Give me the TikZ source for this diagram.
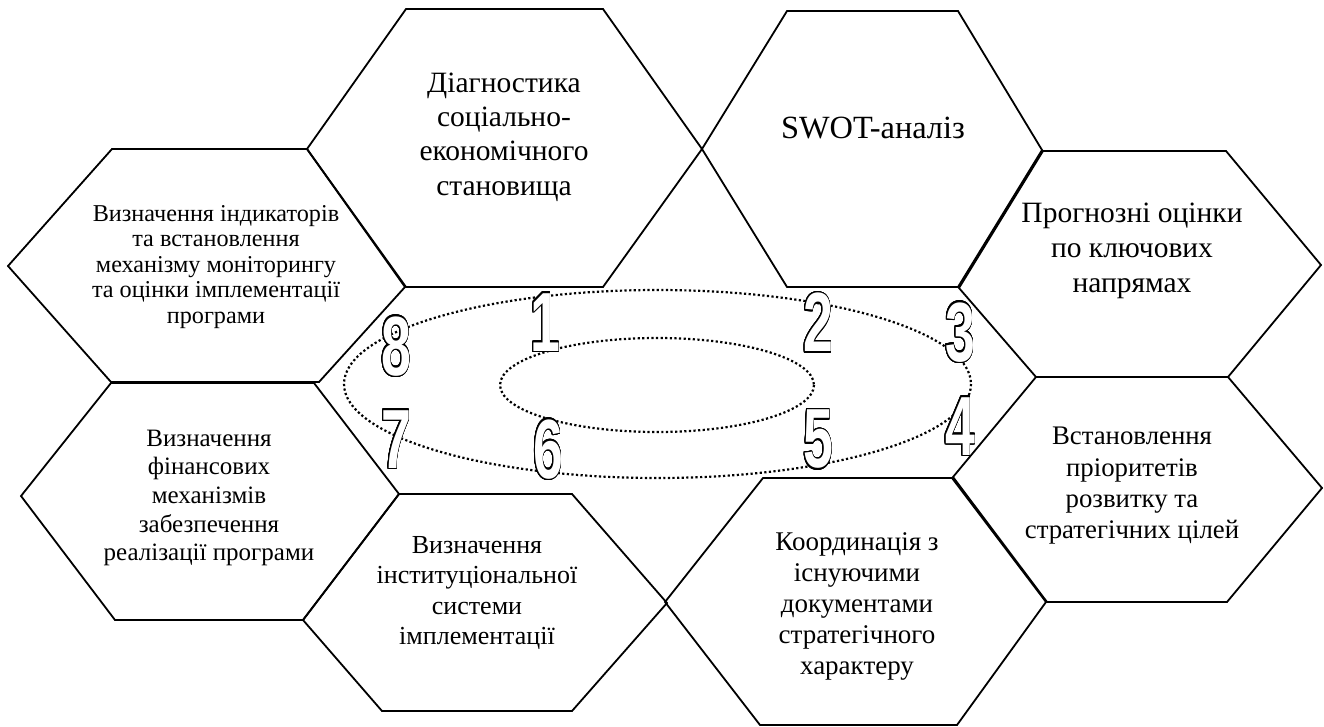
\documentclass[tikz,border=0pt]{standalone}
\usepackage{fontspec}
\setmainfont{Liberation Serif}
\newfontfamily\digitfont{Liberation Sans}
\usepackage{contour}
\contourlength{1.4pt}
\contournumber{32}
\begin{document}
\begin{tikzpicture}[x=1pt,y=-1pt,
  hex/.style={draw=black,line width=1.8pt,line join=miter},
  ring/.style={draw=black,line width=2.2pt,dash pattern=on 2.2pt off 2.4pt},
  lbl/.style={align=center,inner sep=0pt,text=black},
  num/.style={inner sep=0pt,font=\digitfont\bfseries\fontsize{84}{84}\selectfont}]
\useasboundingbox (0,0) rectangle (1324,726);
% hexagons
\draw[hex] (406,9) -- (603,9) -- (702,149) -- (603,287) -- (406,287) -- (307,149) -- cycle;
\draw[hex] (787,11) -- (958,11) -- (1042,150) -- (958,287) -- (787,287) -- (702,149) -- cycle;
\draw[hex] (1043,151) -- (1226,151) -- (1321,265) -- (1228,377) -- (1036,377) -- (959,288) -- cycle;
\draw[hex] (1036,377) -- (1228,377) -- (1322,488) -- (1227,602) -- (1047,602) -- (953,477) -- cycle;
\draw[hex] (763,478) -- (952,478) -- (1046,602) -- (957,725) -- (760,725) -- (665,602) -- cycle;
\draw[hex] (399,494) -- (572,494) -- (667,603) -- (572,711) -- (382,711) -- (303,620) -- cycle;
\draw[hex] (111,383) -- (314,383) -- (399,494) -- (303,620) -- (115,620) -- (21,496) -- cycle;
\draw[hex] (112,149) -- (307,149) -- (405,287) -- (319,382) -- (111,382) -- (8,266) -- cycle;
% dotted rings
\draw[ring] (657.5,384) ellipse [x radius=313.5, y radius=94];
\draw[ring] (657,385) ellipse [x radius=157, y radius=47];
% numbers
\newcommand{\outnum}[1]{\scalebox{0.64}[1]{\color{white}\contour{black}{#1}}}
\node[num] (n1) at (545,323) {\outnum{1}};
\node[num] (n2) at (818,323) {\outnum{2}};
\node[num] (n3) at (960,333) {\outnum{3}};
\node[num] (n4) at (960,427) {\outnum{4}};
\node[num] (n5) at (818,440) {\outnum{5}};
\node[num] (n6) at (548,450) {\outnum{6}};
\node[num] (n7) at (396,440) {\outnum{7}};
\node[num] (n8) at (396,347) {\outnum{8}};
% texts
\node[lbl,font=\fontsize{29.5}{34.3}\selectfont] (t1) at (504,137) {Діагностика\\соціально-\\економічного\\становища};
\node[lbl,font=\fontsize{32.4}{37}\selectfont] (t2) at (873,128) {SWOT-аналіз};
\node[lbl,font=\fontsize{29.5}{35}\selectfont] (t3) at (1132,251) {Прогнозні оцінки\\по ключових\\напрямах};
\node[lbl,font=\fontsize{26.8}{31.3}\selectfont] (t4) at (1132,486) {Встановлення\\пріоритетів\\розвитку та\\стратегічних цілей};
\node[lbl,font=\fontsize{27}{31}\selectfont] (t5) at (857,606) {Координація з\\існуючими\\документами\\стратегічного\\характеру};
\node[lbl,font=\fontsize{26}{30.3}\selectfont] (t6) at (477,593) {Визначення\\інституціональної\\системи\\імплементації};
\node[lbl,font=\fontsize{25}{28.7}\selectfont] (t7) at (209,498) {Визначення\\фінансових\\механізмів\\забезпечення\\реалізації програми};
\node[lbl,font=\fontsize{24.2}{25.5}\selectfont] (t8) at (216,267) {Визначення індикаторів\\та встановлення\\механізму моніторингу\\та оцінки імплементації\\програми};
\end{tikzpicture}
\end{document}
